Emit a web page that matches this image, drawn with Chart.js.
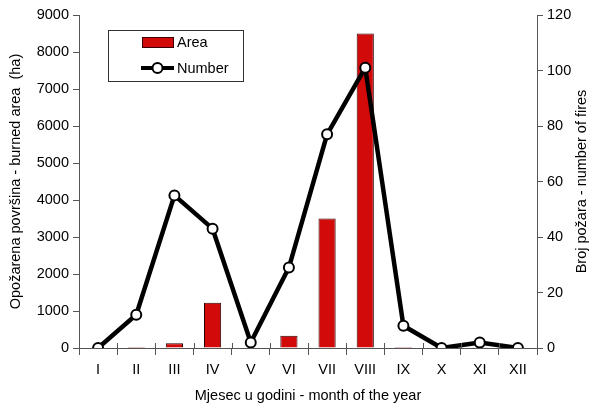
<!DOCTYPE html>
<html>
<head>
<meta charset="utf-8">
<script src="https://cdn.jsdelivr.net/npm/chart.js@4.4.1/dist/chart.umd.min.js"></script>
<style>
  html, body { margin: 0; padding: 0; background: #fff; }
  #wrap { width: 592px; height: 405px; }
</style>
</head>
<body>
<div id="wrap"><canvas id="fireChart"></canvas></div>
<script>
// months and values
const months = ['I', 'II', 'III', 'IV', 'V', 'VI', 'VII', 'VIII', 'IX', 'X', 'XI', 'XII'];
const burnedArea = [0, 30, 130, 1220, 0, 330, 3500, 8500, 30, 0, 10, 0];
const fireCount = [0, 12, 55, 43, 2, 29, 77, 101, 8, 0, 2, 0];
const areaTicks = [0, 1000, 2000, 3000, 4000, 5000, 6000, 7000, 8000, 9000];
const countTicks = [0, 20, 40, 60, 80, 100, 120];
const rightTitle = 'Broj požara - number of fires';

const fontFamily = '"Liberation Sans", Arial, sans-serif';
const ink = '#000';

// legend box inside the plot, right title read bottom-to-top, x ticks crossing the axis
const extras = {
    id: 'extras',
    afterDraw(chart) {
        const ctx = chart.ctx;
        const area = chart.chartArea;
        ctx.save();

        const xs = chart.scales.x;
        ctx.strokeStyle = '#555';
        ctx.lineWidth = 1;
        ctx.beginPath();
        for (let i = 0; i <= months.length; i++) {
            const px = Math.round(xs.getPixelForValue(i - 0.5)) + 0.5;
            ctx.moveTo(px, area.bottom);
            ctx.lineTo(px, area.bottom - 5);
        }
        ctx.stroke();

        ctx.strokeStyle = '#333';
        ctx.fillStyle = '#fff';
        ctx.fillRect(108, 30, 135, 51);
        ctx.strokeRect(108.5, 30.5, 135, 51);

        ctx.font = '14.5px ' + fontFamily;
        ctx.textBaseline = 'middle';

        const bars = chart.data.datasets[1];
        ctx.fillStyle = bars.backgroundColor;
        ctx.strokeStyle = '#3a0000';
        ctx.fillRect(142, 37, 32, 11);
        ctx.strokeRect(142.5, 37.5, 31, 10);
        ctx.fillStyle = ink;
        ctx.fillText(bars.label, 177, 43);

        const line = chart.data.datasets[0];
        ctx.strokeStyle = '#000';
        ctx.lineWidth = 4;
        ctx.beginPath();
        ctx.moveTo(141, 68);
        ctx.lineTo(174, 68);
        ctx.stroke();
        ctx.lineWidth = 2;
        ctx.fillStyle = '#fff';
        ctx.beginPath();
        ctx.arc(157.5, 68, 5, 0, Math.PI * 2);
        ctx.fill();
        ctx.stroke();
        ctx.fillStyle = ink;
        ctx.fillText(line.label, 177, 69);

        ctx.translate(582, (area.top + area.bottom) / 2);
        ctx.rotate(-Math.PI / 2);
        ctx.textAlign = 'center';
        ctx.fillText(rightTitle, 0, 0);
        ctx.restore();
    }
};

const tickFont = { family: fontFamily, size: 14.5 };

const ctx = document.getElementById('fireChart').getContext('2d');
const chart = new Chart(ctx, {
    type: 'bar',
    data: {
        labels: months,
        datasets: [{
            type: 'line',
            label: 'Number',
            data: fireCount,
            yAxisID: 'yCount',
            borderColor: '#000',
            borderWidth: 4.5,
            pointRadius: 5,
            pointBorderWidth: 2,
            pointBackgroundColor: '#fff',
            pointBorderColor: '#000',
            tension: 0,
            order: 0
        }, {
            type: 'bar',
            label: 'Area',
            data: burnedArea,
            yAxisID: 'yArea',
            backgroundColor: '#d20a0a',
            borderColor: '#2a0000',
            borderWidth: 1,
            barPercentage: 0.45,
            categoryPercentage: 1,
            order: 1
        }]
    },
    options: {
        responsive: true,
        maintainAspectRatio: false,
        animation: false,
        layout: { padding: { top: 15, right: 0, left: 0, bottom: 0 } },
        plugins: {
            legend: { display: false },
            tooltip: { enabled: false }
        },
        scales: {
            x: {
                offset: true,
                afterFit: axis => { axis.height = 57; },
                grid: { drawOnChartArea: false, offset: true, tickLength: 7, color: '#555' },
                border: { color: '#555', width: 1 },
                ticks: { color: ink, font: tickFont, padding: 6 },
                title: {
                    display: true,
                    text: 'Mjesec u godini - month of the year',
                    color: ink,
                    font: tickFont,
                    padding: { top: 9, bottom: 0 }
                }
            },
            yArea: {
                position: 'left',
                min: 0,
                max: 9000,
                afterBuildTicks: axis => { axis.ticks = areaTicks.map(v => ({ value: v })); },
                afterFit: axis => { axis.width = 79; },
                grid: { drawOnChartArea: false, tickLength: 6, color: '#555' },
                border: { color: '#555', width: 1 },
                ticks: { color: ink, font: tickFont, padding: 4, callback: v => String(v) },
                title: {
                    display: true,
                    text: 'Opožarena površina - burned area  (ha)',
                    color: ink,
                    font: tickFont,
                    padding: { top: 7, bottom: 0 }
                }
            },
            yCount: {
                position: 'right',
                min: 0,
                max: 120,
                afterBuildTicks: axis => { axis.ticks = countTicks.map(v => ({ value: v })); },
                afterFit: axis => { axis.width = 55; },
                grid: { drawOnChartArea: false, tickLength: 6, color: '#555' },
                border: { color: '#555', width: 1 },
                ticks: { color: ink, font: tickFont, padding: 4, callback: v => String(v) }
            }
        }
    },
    plugins: [extras]
});
</script>
</body>
</html>
